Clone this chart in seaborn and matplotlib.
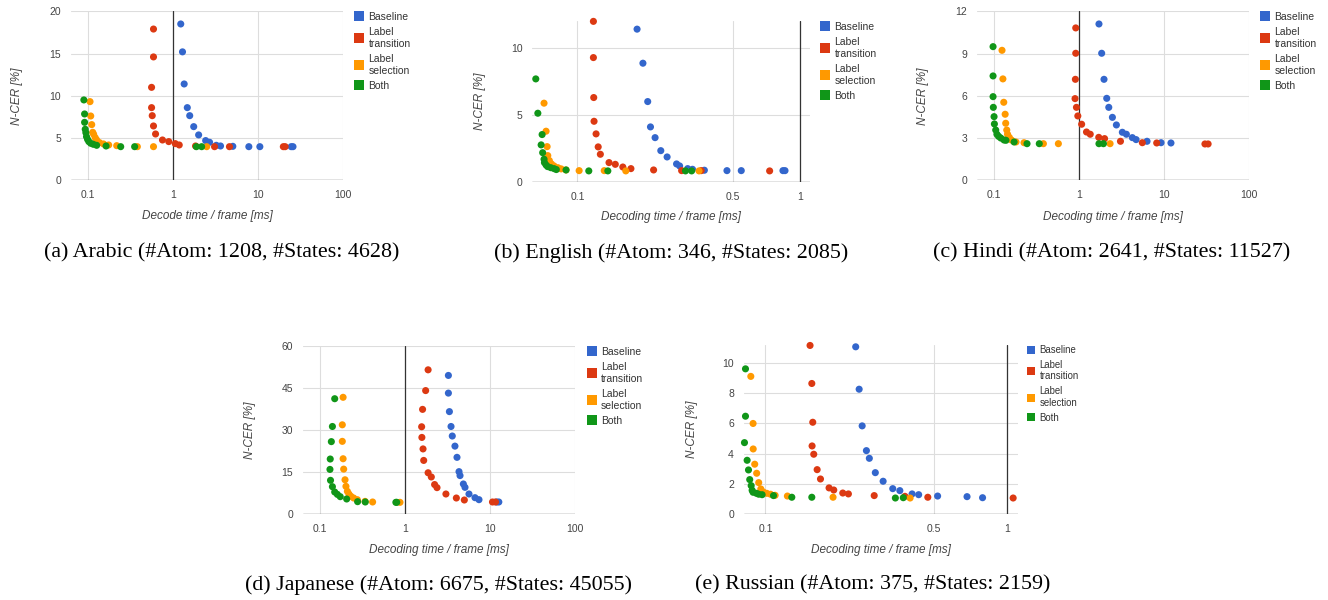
import seaborn as sns
import pandas as pd
import matplotlib.pyplot as plt
from matplotlib.lines import Line2D

# Series names and colours (Google chart palette)
methods = ["Baseline", "Label transition", "Label selection", "Both"]
legend_labels = ["Baseline", "Label\ntransition", "Label\nselection", "Both"]
colors = ["#3366cc", "#dc3912", "#ff9900", "#109618"]

# (a) Arabic
ar_base_t = [1.24, 1.30, 1.36, 1.48, 1.58, 1.76, 2.01, 2.43, 2.70, 3.24, 3.63, 5.06, 7.8, 10.5, 24.5, 25.7]
ar_base_cer = [18.5, 15.2, 11.4, 8.6, 7.65, 6.35, 5.37, 4.7, 4.5, 4.14, 4.06, 4.02, 3.98, 3.98, 3.98, 3.98]
ar_trans_t = [0.594, 0.594, 0.564, 0.564, 0.574, 0.594, 0.628, 0.757, 0.897, 1.07, 1.19, 1.85, 3.09, 4.62, 19.8, 20.8]
ar_trans_cer = [17.9, 14.6, 11.0, 8.6, 7.65, 6.43, 5.48, 4.77, 4.58, 4.34, 4.18, 4.06, 3.98, 3.98, 3.98, 3.98]
ar_sel_t = [0.107, 0.109, 0.112, 0.115, 0.118, 0.123, 0.128, 0.138, 0.154, 0.177, 0.220, 0.384, 0.594, 2.5]
ar_sel_cer = [9.31, 7.61, 6.59, 5.68, 5.44, 5.05, 4.77, 4.46, 4.30, 4.18, 4.10, 3.98, 3.98, 3.98]
ar_both_t = [0.0906, 0.0924, 0.0924, 0.094, 0.0956, 0.0973, 0.1, 0.1036, 0.109, 0.117, 0.128, 0.165, 0.245, 0.357, 1.89, 2.18]
ar_both_cer = [9.51, 7.85, 6.86, 6.04, 5.64, 5.17, 4.85, 4.58, 4.38, 4.26, 4.14, 4.06, 3.98, 3.98, 3.98, 3.98]

# (b) English
en_base_t = [0.1854, 0.197, 0.207, 0.213, 0.2234, 0.237, 0.253, 0.279, 0.288, 0.313, 0.329, 0.372, 0.470, 0.545, 0.839, 0.857]
en_base_cer = [11.42, 8.88, 6.02, 4.13, 3.33, 2.36, 1.89, 1.37, 1.22, 1.02, 0.97, 0.90, 0.87, 0.87, 0.87, 0.87]
en_trans_t = [0.118, 0.118, 0.1184, 0.1188, 0.1213, 0.124, 0.1268, 0.1387, 0.148, 0.160, 0.174, 0.220, 0.294, 0.36, 0.731]
en_trans_cer = [12.0, 9.30, 6.32, 4.55, 3.61, 2.64, 2.09, 1.47, 1.34, 1.14, 1.02, 0.92, 0.87, 0.87, 0.85]
en_sel_t = [0.0708, 0.0723, 0.0731, 0.0736, 0.0748, 0.0764, 0.0785, 0.0817, 0.0845, 0.0889, 0.1018, 0.132, 0.165, 0.352]
en_sel_cer = [5.90, 3.81, 2.66, 1.99, 1.62, 1.37, 1.22, 1.09, 1.00, 0.92, 0.87, 0.87, 0.85, 0.85]
en_both_t = [0.065, 0.0664, 0.0694, 0.0687, 0.0698, 0.0708, 0.0711, 0.0723, 0.0735, 0.0759, 0.0785, 0.0804, 0.0889, 0.1125, 0.137, 0.306, 0.326]
en_both_cer = [7.71, 5.15, 3.56, 2.79, 2.21, 1.72, 1.47, 1.29, 1.17, 1.09, 1.02, 0.95, 0.92, 0.85, 0.85, 0.85, 0.85]

# (c) Hindi
hi_base_t = [1.71, 1.84, 1.96, 2.11, 2.23, 2.46, 2.74, 3.22, 3.59, 4.22, 4.67, 6.28, 9.18, 12.0]
hi_base_cer = [11.10, 9.02, 7.17, 5.82, 5.18, 4.47, 3.93, 3.41, 3.27, 3.03, 2.89, 2.77, 2.67, 2.65]
hi_trans_t = [0.912, 0.912, 0.903, 0.895, 0.93, 0.965, 1.07, 1.22, 1.35, 1.70, 1.99, 3.06, 5.53, 8.16, 30.1, 32.8]
hi_trans_cer = [10.82, 9.02, 7.17, 5.80, 5.18, 4.57, 3.98, 3.43, 3.27, 3.05, 2.96, 2.77, 2.67, 2.65, 2.58, 2.58]
hi_sel_t = [0.124, 0.127, 0.130, 0.135, 0.137, 0.141, 0.144, 0.151, 0.160, 0.181, 0.225, 0.38, 0.57, 2.31]
hi_sel_cer = [9.23, 7.20, 5.54, 4.69, 4.05, 3.57, 3.27, 3.05, 2.86, 2.72, 2.67, 2.60, 2.60, 2.60]
hi_both_t = [0.0973, 0.0973, 0.0973, 0.098, 0.1, 0.1009, 0.1046, 0.108, 0.113, 0.120, 0.131, 0.138, 0.172, 0.244, 0.34, 1.71, 1.93]
hi_both_cer = [9.49, 7.41, 5.94, 5.18, 4.52, 4.0, 3.57, 3.27, 3.12, 3.0, 2.86, 2.84, 2.72, 2.60, 2.60, 2.60, 2.60]

# (d) Japanese
ja_base_t = [3.24, 3.24, 3.33, 3.48, 3.60, 3.87, 4.09, 4.32, 4.44, 4.86, 5.08, 5.66, 6.66, 7.42, 12.0, 12.7]
ja_base_cer = [49.4, 43.1, 36.5, 31.2, 27.8, 24.2, 20.2, 15.1, 13.7, 10.7, 9.5, 7.13, 5.82, 5.11, 4.28, 4.28]
ja_trans_t = [1.87, 1.75, 1.61, 1.57, 1.58, 1.63, 1.66, 1.87, 2.04, 2.23, 2.38, 3.03, 4.02, 4.99, 10.7, 11.6]
ja_trans_cer = [51.4, 44.0, 37.3, 31.1, 27.3, 23.2, 19.1, 14.7, 13.2, 10.5, 9.4, 7.13, 5.70, 4.99, 4.28, 4.28]
ja_sel_t = [0.187, 0.183, 0.183, 0.187, 0.19, 0.197, 0.202, 0.21, 0.219, 0.231, 0.249, 0.275, 0.339, 0.416, 0.873]
ja_sel_cer = [41.6, 31.8, 25.9, 19.7, 16.0, 12.2, 9.86, 8.08, 7.13, 6.3, 5.7, 5.1, 4.5, 4.28, 4.16]
ja_both_t = [0.149, 0.14, 0.136, 0.132, 0.131, 0.133, 0.14, 0.149, 0.16, 0.173, 0.206, 0.277, 0.341, 0.781, 0.80]
ja_both_cer = [41.1, 31.2, 25.8, 19.6, 15.9, 12.0, 9.74, 7.84, 7.0, 6.18, 5.35, 4.40, 4.28, 4.16, 4.16]

# (e) Russian
ru_base_t = [0.2364, 0.2443, 0.2514, 0.2618, 0.2692, 0.285, 0.307, 0.3365, 0.36, 0.4046, 0.4308, 0.516, 0.683, 0.792]
ru_base_cer = [11.08, 8.27, 5.84, 4.20, 3.69, 2.74, 2.17, 1.68, 1.55, 1.33, 1.28, 1.19, 1.15, 1.08]
ru_trans_t = [0.153, 0.1556, 0.157, 0.156, 0.1585, 0.1637, 0.169, 0.1834, 0.1918, 0.209, 0.2205, 0.282, 0.378, 0.47, 1.06]
ru_trans_cer = [11.17, 8.65, 6.08, 4.51, 3.96, 2.94, 2.32, 1.73, 1.59, 1.39, 1.33, 1.22, 1.17, 1.11, 1.06]
ru_sel_t = [0.0870, 0.0889, 0.089, 0.0903, 0.092, 0.0938, 0.0957, 0.098, 0.1013, 0.105, 0.1097, 0.1233, 0.1905, 0.397]
ru_sel_cer = [9.12, 6.0, 4.31, 3.30, 2.70, 2.08, 1.66, 1.46, 1.37, 1.31, 1.24, 1.19, 1.11, 1.06]
ru_both_t = [0.0827, 0.0827, 0.0819, 0.084, 0.0851, 0.0861, 0.0873, 0.0881, 0.0889, 0.0918, 0.0938, 0.0969, 0.108, 0.1286, 0.1556, 0.345, 0.372]
ru_both_cer = [9.62, 6.48, 4.73, 3.56, 2.92, 2.28, 1.88, 1.57, 1.44, 1.37, 1.31, 1.28, 1.22, 1.11, 1.11, 1.06, 1.08]

captions = [
    "(a) Arabic (#Atom: 1208, #States: 4628)",
    "(b) English (#Atom: 346, #States: 2085)",
    "(c) Hindi (#Atom: 2641, #States: 11527)",
    "(d) Japanese (#Atom: 6675, #States: 45055)",
    "(e) Russian (#Atom: 375, #States: 2159)",
]

sns.set_theme(style="white")
plt.rcParams["font.family"] = ["Liberation Sans", "DejaVu Sans"]

W, H = 1328, 600
fig = plt.figure(figsize=(W / 100, H / 100), dpi=100)


def make_df(series):
    rows = []
    for name, (t, cer) in zip(methods, series):
        rows.append(pd.DataFrame({"time": t, "cer": cer, "method": name}))
    return pd.concat(rows, ignore_index=True)


def panel(box, series, xlim, ylim, yticks, xticks, xlabel, ylab_x, xlab_y,
          leg_xy, caption, cap_xy, leg_fs=7.5):
    left, top, right, bottom = box
    ax = fig.add_axes([left / W, 1 - bottom / H, (right - left) / W, (bottom - top) / H])
    df = make_df(series)
    sns.scatterplot(data=df, x="time", y="cer", hue="method", hue_order=methods,
                    palette=colors, s=26, linewidth=0, legend=False, ax=ax,
                    zorder=3, clip_on=False)
    ax.set_xscale("log")
    ax.set_xlim(*xlim)
    ax.set_ylim(*ylim)
    ax.set_yticks(yticks)
    ax.set_yticklabels([str(v) for v in yticks])
    ax.set_xticks(xticks)
    ax.set_xticklabels([f"{v:g}" for v in xticks])
    ax.minorticks_off()
    ax.tick_params(length=0, labelsize=7.5, labelcolor="#444444", pad=7)
    ax.grid(True, color="#dddddd", linewidth=0.8)
    ax.set_axisbelow(True)
    for s in ax.spines.values():
        s.set_visible(False)
    ax.axvline(1, color="#333333", linewidth=0.9, zorder=2)
    ax.axhline(0, color="#333333", linewidth=0.9, zorder=2)
    ax.set_xlabel(xlabel, fontsize=8.5, style="italic", color="#444444", va="center")
    ax.set_ylabel("N-CER [%]", fontsize=8.5, style="italic", color="#444444", va="center")
    ax.xaxis.set_label_coords(0.5, -(xlab_y - bottom) / (bottom - top))
    ax.yaxis.set_label_coords((ylab_x - left) / (right - left), 0.5)

    ms = 7 * leg_fs / 7.5
    handles = [Line2D([], [], marker="s", linestyle="none", markersize=ms,
                      markerfacecolor=c, markeredgewidth=0) for c in colors]
    fig.legend(handles, legend_labels, loc="upper left",
               bbox_to_anchor=(leg_xy[0] / W, 1 - leg_xy[1] / H),
               frameon=False, fontsize=leg_fs, handlelength=0.8, handletextpad=0.5,
               labelspacing=0.5, borderpad=0, borderaxespad=0, labelcolor="#333333")
    fig.text(cap_xy[0] / W, 1 - cap_xy[1] / H, caption, ha="center", va="center",
             fontsize=15.8, family="Liberation Serif", color="black")
    return ax


panel((71, 11.3, 343.3, 180.3),
      [(ar_base_t, ar_base_cer), (ar_trans_t, ar_trans_cer),
       (ar_sel_t, ar_sel_cer), (ar_both_t, ar_both_cer)],
      (0.064, 100), (0, 20), [0, 5, 10, 15, 20], [0.1, 1, 10, 100],
      "Decode time / frame [ms]", 17, 216, (355, 12), captions[0], (222, 253))

panel((532.3, 20.7, 810, 182.3),
      [(en_base_t, en_base_cer), (en_trans_t, en_trans_cer),
       (en_sel_t, en_sel_cer), (en_both_t, en_both_cer)],
      (0.0627, 1.11), (0, 12.05), [0, 5, 10], [0.1, 0.5, 1],
      "Decoding time / frame [ms]", 480, 216.7, (821, 22), captions[1], (671, 253))

panel((976.7, 11.3, 1249.3, 180.3),
      [(hi_base_t, hi_base_cer), (hi_trans_t, hi_trans_cer),
       (hi_sel_t, hi_sel_cer), (hi_both_t, hi_both_cer)],
      (0.0625, 100), (0, 12), [0, 3, 6, 9, 12], [0.1, 1, 10, 100],
      "Decoding time / frame [ms]", 922.7, 216.7, (1261, 12), captions[2], (1112, 253))

panel((302.7, 345.7, 575, 514),
      [(ja_base_t, ja_base_cer), (ja_trans_t, ja_trans_cer),
       (ja_sel_t, ja_sel_cer), (ja_both_t, ja_both_cer)],
      (0.0626, 100), (0, 60), [0, 15, 30, 45, 60], [0.1, 1, 10, 100],
      "Decoding time / frame [ms]", 250, 550, (587.5, 347), captions[3], (438.5, 585))

panel((743.7, 345, 1017.7, 514),
      [(ru_base_t, ru_base_cer), (ru_trans_t, ru_trans_cer),
       (ru_sel_t, ru_sel_cer), (ru_both_t, ru_both_cer)],
      (0.0813, 1.107), (0, 11.2), [0, 2, 4, 6, 8, 10], [0.1, 0.5, 1],
      "Decoding time / frame [ms]", 691.7, 550, (1027, 345), captions[4], (873, 585),
      leg_fs=6.9)

fig.savefig("out.png", dpi=100)
